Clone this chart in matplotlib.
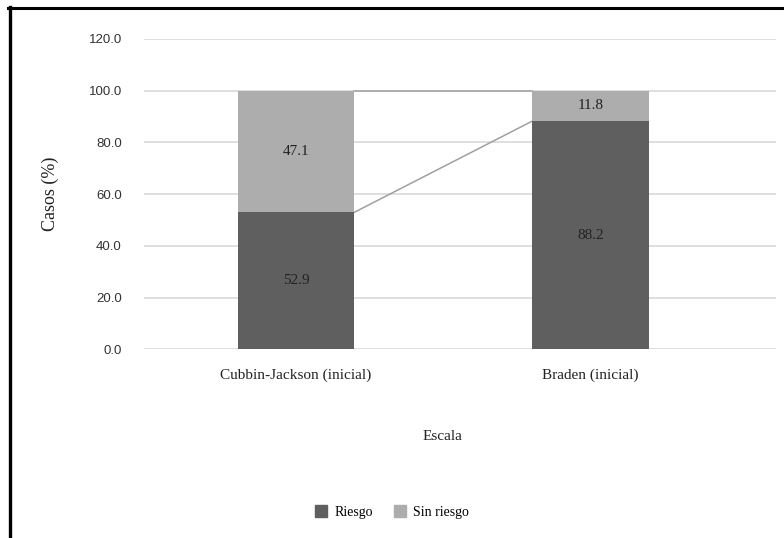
import numpy as np
import matplotlib
matplotlib.use('Agg')
import matplotlib.pyplot as plt
from matplotlib.lines import Line2D
from matplotlib.patches import Patch

# datos
escalas = ['Cubbin-Jackson (inicial)', 'Braden (inicial)']
riesgo = [52.9, 88.2]
sin_riesgo = [47.1, 11.8]
y_ticks = [0, 20, 40, 60, 80, 100, 120]

C_OSCURO = '#5f5f5f'
C_CLARO = '#adadad'
SERIF = ['Liberation Serif', 'DejaVu Serif']
SANS = ['Liberation Sans', 'DejaVu Sans']

W, H = 784, 538
fig = plt.figure(figsize=(W / 100, H / 100), dpi=100)
ax = fig.add_axes([144 / W, 1 - 349.3 / H, (776 - 144) / W, (349.3 - 38.8) / H])

x = np.arange(len(escalas))
ancho = 0.395
ax.bar(x, riesgo, ancho, color=C_OSCURO, label='Riesgo', zorder=3)
ax.bar(x, sin_riesgo, ancho, bottom=riesgo, color=C_CLARO, label='Sin riesgo', zorder=3)

# lineas de serie entre barras (estilo Excel)
tope = np.array(riesgo) + np.array(sin_riesgo)
for serie in (np.array(riesgo), tope):
    ax.plot([x[0] + ancho / 2, x[1] - ancho / 2], [serie[0], serie[1]],
            color='#a0a0a0', lw=1.1, zorder=2)

# etiquetas de datos
for i in range(len(escalas)):
    ax.text(x[i], riesgo[i] / 2, f'{riesgo[i]:.1f}', ha='center', va='center',
            fontsize=11, family=SERIF, color='#222222', zorder=4)
    ax.text(x[i], riesgo[i] + sin_riesgo[i] / 2, f'{sin_riesgo[i]:.1f}', ha='center',
            va='center', fontsize=11, family=SERIF, color='#222222', zorder=4)

ax.set_ylim(0, 120)
ax.set_xlim(-0.516, 1.630)
ax.set_yticks(y_ticks)
ax.set_yticklabels([f'{v:.1f}' for v in y_ticks], family=SANS, fontsize=9.5, color='#333333')
ax.set_xticks(x)
ax.set_xticklabels(escalas, family=SERIF, fontsize=11, color='#222222')
ax.tick_params(axis='y', length=0, pad=16)
ax.tick_params(axis='x', length=0, pad=14)
ax.grid(axis='y', color='#dcdcdc', lw=1.3, zorder=0)
for s in ax.spines.values():
    s.set_visible(False)

ax.set_ylabel('Casos (%)', family=SERIF, fontsize=13, color='#222222', labelpad=21)
fig.text(442.5 / W, 1 - 436 / H, 'Escala', ha='center', va='center',
         family=SERIF, fontsize=11, color='#222222')

handles = [Patch(color=C_OSCURO), Patch(color=C_CLARO)]
fig.legend(handles, ['Riesgo', 'Sin riesgo'], loc='center', bbox_to_anchor=(392 / W, 1 - 512 / H),
           ncol=2, frameon=False, prop={'family': SERIF, 'size': 10},
           handlelength=0.9, handleheight=1.0, handletextpad=0.5, columnspacing=1.5)

# marco recortado (arriba e izquierda)
fig.add_artist(Line2D([8 / W, 1], [1 - 8.3 / H, 1 - 8.3 / H], color='black', lw=2.2,
                      transform=fig.transFigure))
fig.add_artist(Line2D([9.5 / W, 9.5 / W], [0, 1 - 7 / H], color='black', lw=2.4,
                      transform=fig.transFigure))

fig.savefig('out.png', dpi=100)
